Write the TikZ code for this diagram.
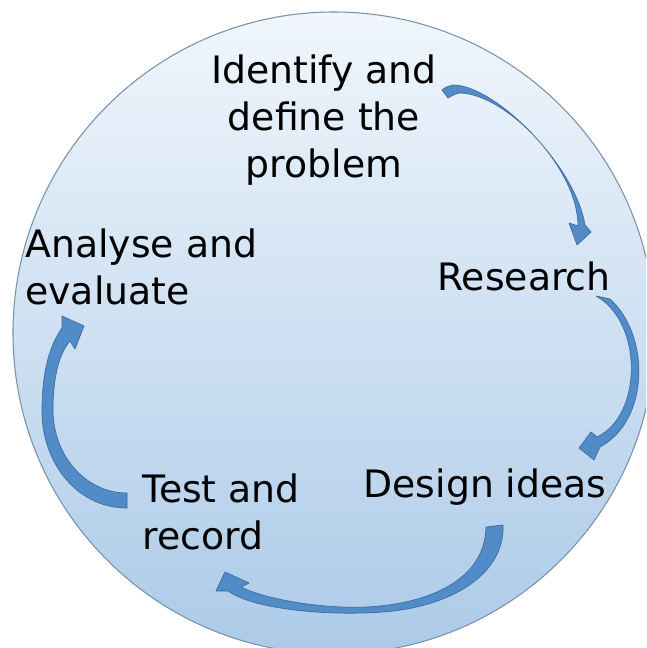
\documentclass[tikz,border=0pt]{standalone}
\usepackage{fontspec}
\setmainfont{DejaVu Sans}
\usepackage{tikz}

\definecolor{circtop}{RGB}{240,246,252}
\definecolor{circbot}{RGB}{172,202,232}
\definecolor{circedge}{RGB}{120,145,172}
\definecolor{arrowblue}{RGB}{82,140,200}
\definecolor{arrowedge}{RGB}{62,108,160}

\tikzset{
  stage/.style={inner sep=0pt, font=\fontsize{21.5}{26.6}\selectfont},
  blockarrow/.style={fill=arrowblue, draw=arrowedge, line width=0.4pt, line join=round}
}

\begin{document}
\begin{tikzpicture}[x=0.02cm, y=-0.02cm]
   \clip (0,0) rectangle (646,648);
   \shade[top color=circtop, bottom color=circbot, draw=circedge, line width=0.6pt] (334,333) circle (321);

   % the five stages
   \node[stage, align=center] (identify) at (324,120) {Identify and\\define the\\problem};
   \node[stage] (research) at (524,276) {Research};
   \node[stage] (design) at (485,487) {Design ideas};
   \node[stage, align=left, anchor=west] (test) at (142,512) {Test and\\record};
   \node[stage, align=left, anchor=west] (analyse) at (25,267) {Analyse and\\evaluate};

   % identify -> research
   \filldraw[blockarrow] (448,98) -- (442,90) .. controls (446,87) .. (453,85)
     .. controls (495,85) and (575,165) .. (585,225)
     -- (591,232) -- (577,245) -- (569,223) -- (578,226)
     .. controls (578,168) and (506,94) .. (460,93)
     .. controls (455,94) .. (448,98) -- cycle;

   % research -> design
   \filldraw[blockarrow] (596,296) -- (610,299)
     .. controls (650,335) and (650,420) .. (600,447)
     -- (594,460) -- (579,448) -- (591,432) -- (597,437)
     .. controls (643,415) and (643,322) .. (596,296) -- cycle;

   % design -> test
   \filldraw[blockarrow] (486,527) -- (503,525)
     .. controls (505,575) and (450,607) .. (383,612)
     .. controls (330,616) and (255,610) .. (228,591)
     -- (216,591) -- (225,572) -- (249,583) -- (241,587)
     .. controls (265,599) and (320,609) .. (367,607)
     .. controls (425,604) and (485,582) .. (486,527) -- cycle;

   % test -> analyse
   \filldraw[blockarrow] (127,493) -- (127,508)
     .. controls (75,508) and (42,460) .. (42,412)
     .. controls (42,370) and (50,345) .. (62,328)
     -- (62,316) -- (84,326) -- (75,349) -- (70,341)
     .. controls (58,355) and (53,380) .. (53,410)
     .. controls (53,455) and (85,493) .. (127,493) -- cycle;
\end{tikzpicture}
\end{document}
